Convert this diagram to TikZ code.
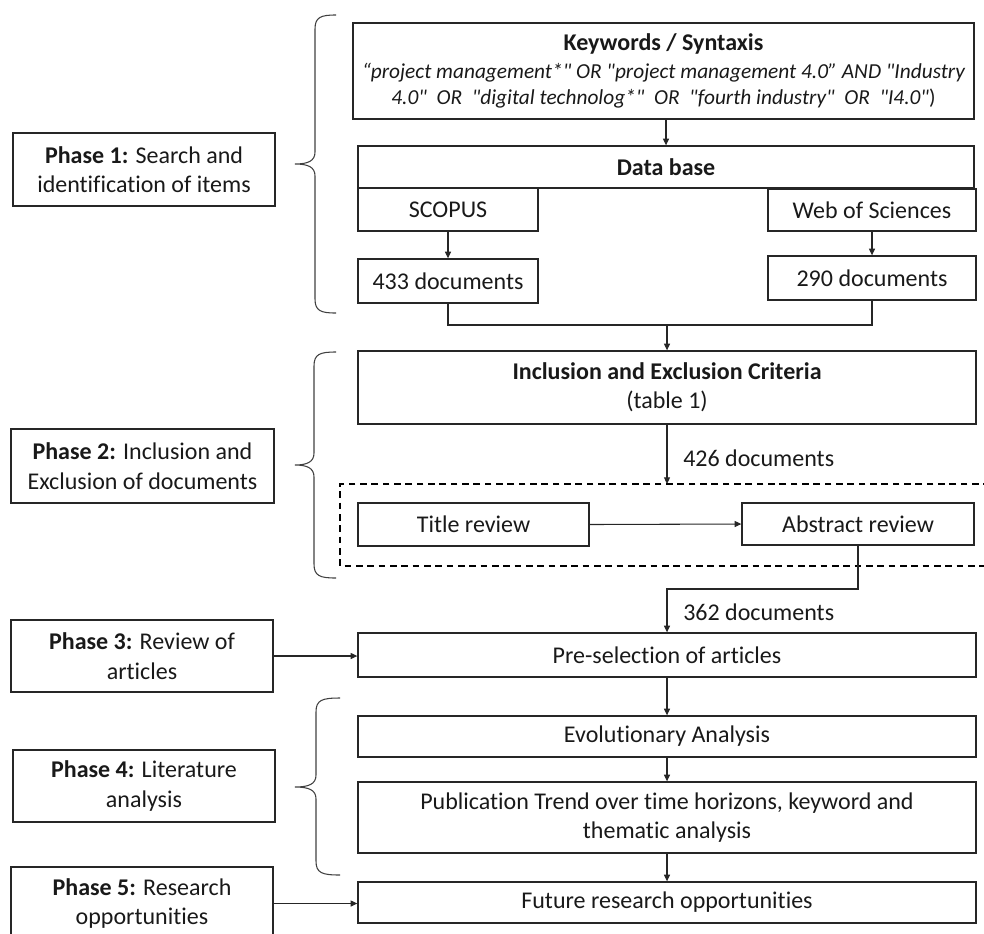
\documentclass[tikz,border=0pt]{standalone}
\usepackage{fontspec}
\defaultfontfeatures{}
\setmainfont{Carlito}[Ligatures={NoCommon}]
\newfontfamily\kwfont{Carlito}[Ligatures={NoCommon}]
\usetikzlibrary{arrows.meta,calc}
\newcommand{\mybrace}[6]{% tip, vert, end, top, mid, bot
  \draw[brc] (#3,#4) .. controls ({#2+6},#4) and (#2,{#4+2}) .. (#2,{#4+14})
    -- (#2,{#5-12}) .. controls (#2,{#5-3}) and ({#2-7},#5) .. (#1,#5)
    .. controls ({#2-7},#5) and (#2,{#5+3}) .. (#2,{#5+12})
    -- (#2,{#6-14}) .. controls (#2,{#6-2}) and ({#2+6},#6) .. (#3,#6);}
\begin{document}
\begin{tikzpicture}[x=0.75pt,y=-0.75pt,
  bx/.style={draw=black!85, line width=1pt, inner sep=0pt, align=center,
    font=\fontsize{18}{22}\selectfont, text=black!90},
  arr/.style={draw=black!85, line width=0.8pt, -{Triangle[length=5pt,width=4.5pt]}},
  ln/.style={draw=black!85, line width=0.8pt},
  brc/.style={draw=black!75, line width=0.8pt},
  lbl/.style={anchor=west, inner sep=0pt, font=\fontsize{18}{22}\selectfont, text=black!90}]
\useasboundingbox (0,0) rectangle (984,933);
% main column
\node[bx, font=\kwfont\fontsize{16}{19.5}\selectfont\itshape, minimum width=465.75pt, minimum height=72pt] (kw) at (663.5,71)
  {{\fontsize{18}{22}\selectfont\upshape\bfseries Keywords / Syntaxis}\\[2pt]
   “project management*" OR "project management 4.0” AND "Industry\\
   4.0"\ \ OR\ \ "digital technolog*"\ \ OR\ \ "fourth industry"\ \ OR\ \ "I4.0"\textup{)}};
\node[bx, minimum width=462pt, minimum height=31.5pt] (db) at (666,167) {\textbf{Data base}};
\node[bx, minimum width=135pt, minimum height=32.25pt] (sco) at (448,209.5) {SCOPUS};
\node[bx, minimum width=156pt, minimum height=31.5pt] (wos) at (872,210) {Web of Sciences};
\node[bx, minimum width=135pt, minimum height=33pt] (d433) at (448,281) {433 documents};
\node[bx, minimum width=156pt, minimum height=33pt] (d290) at (872,278) {290 documents};
\node[bx, minimum width=463.5pt, minimum height=54.75pt] (incl) at (667,387.5)
  {\textbf{Inclusion and Exclusion Criteria}\\(table 1)};
\node[bx, minimum width=173.25pt, minimum height=32.25pt] (title) at (473.5,524.5) {Title review};
\node[bx, minimum width=174pt, minimum height=31.5pt] (abs) at (858,524) {Abstract review};
\node[bx, minimum width=463.5pt, minimum height=33pt] (pre) at (667,655) {Pre-selection of articles};
\node[bx, minimum width=463.5pt, minimum height=30.75pt] (evo) at (667,736.5) {Evolutionary Analysis};
\node[bx, minimum width=463.5pt, minimum height=53.25pt] (pub) at (667,817.5)
  {Publication Trend over time horizons, keyword and\\thematic analysis};
\node[bx, minimum width=463.5pt, minimum height=30.75pt] (fut) at (667,902.5) {Future research opportunities};
% phase boxes
\node[bx, minimum width=196.5pt, minimum height=54.75pt] (p1) at (144,169.5)
  {\textbf{Phase 1:} Search and\\identification of items};
\node[bx, minimum width=197.25pt, minimum height=55.5pt] (p2) at (142.5,466)
  {\textbf{Phase 2:} Inclusion and\\Exclusion of documents};
\node[bx, minimum width=196.5pt, minimum height=54pt] (p3) at (142,656)
  {\textbf{Phase 3:} Review of\\articles};
\node[bx, minimum width=196.5pt, minimum height=54pt] (p4) at (144,786)
  {\textbf{Phase 4:} Literature\\analysis};
\node[bx, minimum width=196.5pt, minimum height=54.75pt] (p5) at (142,903.5)
  {\textbf{Phase 5:} Research\\opportunities};
% coordinates
\coordinate (m) at (667,325);
\coordinate (dtop) at (667,484);
\coordinate (turn) at (667,589);
% connectors
\draw[arr] (kw.south -| db.north) -- (db.north);
\draw[arr] (sco.south) -- (d433.north);
\draw[arr] (wos.south) -- (d290.north);
\draw[ln] (d433.south) |- (m) -| (d290.south);
\draw[arr] (m) -- (incl.north);
\draw[arr] (incl.south) -- (dtop);
\node[lbl] (l426) at (683,458) {426 documents};
\draw[dashed, line width=0.8pt, dash pattern=on 5pt off 3.5pt] (990,484) -- (340,484) -- (340,566) -- (990,566);
\draw[arr] (title.east) -- (abs.west);
\draw[arr] (abs.south) |- (turn) -- (pre.north);
\node[lbl] (l362) at (683,612) {362 documents};
\draw[arr] (p3.east) -- (p3.east -| pre.west);
\draw[arr] (pre.south) -- (evo.north);
\draw[arr] (evo.south) -- (pub.north);
\draw[arr] (pub.south) -- (fut.north);
\draw[arr] (p5.east) -- (p5.east -| fut.west);
% braces
\mybrace{295}{315}{336}{15}{164}{313}
\mybrace{295}{314}{336}{352}{465}{578}
\mybrace{295}{316}{340}{698}{787}{875}
\end{tikzpicture}
\end{document}
